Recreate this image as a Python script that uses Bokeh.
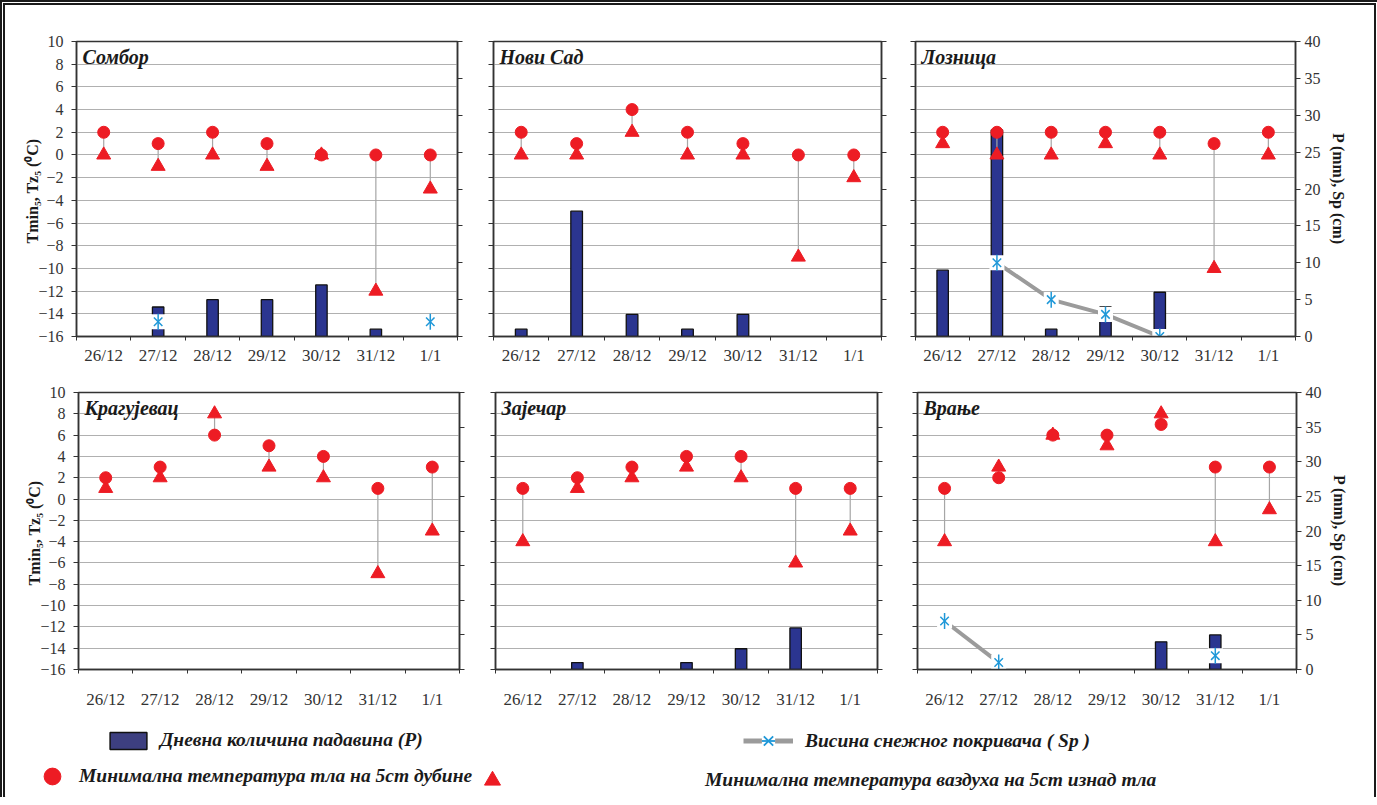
import math
from bokeh.plotting import figure
from bokeh.models import Range1d, LinearAxis, FixedTicker, Label, Legend, LegendItem
from bokeh.layouts import row, column
from bokeh.embed import file_html
from bokeh.resources import INLINE

NaN = float("nan")
days = ["26/12", "27/12", "28/12", "29/12", "30/12", "31/12", "1/1"]

stations = ["Сомбор", "Нови Сад", "Лозница", "Крагујевац", "Зајечар", "Врање"]

# minimum soil temperature at 5 cm depth (°C)
soil_sombor = [2, 1, 2, 1, 0, 0, 0]
soil_novisad = [2, 1, 4, 2, 1, 0, 0]
soil_loznica = [2, 2, 2, 2, 2, 1, 2]
soil_kragujevac = [2, 3, 6, 5, 4, 1, 3]
soil_zajecar = [1, 2, 3, 4, 4, 1, 1]
soil_vranje = [1, 2, 6, 6, 7, 3, 3]

# minimum air temperature 5 cm above ground (°C)
air_sombor = [0, -1, 0, -1, 0, -12, -3]
air_novisad = [0, 0, 2, 0, 0, -9, -2]
air_loznica = [1, 0, 0, 1, 0, -10, 0]
air_kragujevac = [1, 2, 8, 3, 2, -7, -3]
air_zajecar = [-4, 1, 2, 3, 2, -6, -3]
air_vranje = [-4, 3, 6, 5, 8, -4, -1]

# daily precipitation P (mm)
precip_sombor = [0, 4, 5, 5, 7, 1, 0]
precip_novisad = [1, 17, 3, 1, 3, 0, 0]
precip_loznica = [9, 28, 1, 4, 6, 0, 0]
precip_kragujevac = [0, 0, 0, 0, 0, 0, 0]
precip_zajecar = [0, 1, 0, 1, 3, 6, 0]
precip_vranje = [0, 0, 0, 0, 4, 5, 0]

# snow cover height Sp (cm)
snow_sombor = [NaN, 2, NaN, NaN, NaN, NaN, 2]
snow_novisad = [NaN] * 7
snow_loznica = [NaN, 10, 5, 3, 0, NaN, NaN]
snow_kragujevac = [NaN] * 7
snow_zajecar = [NaN] * 7
snow_vranje = [7, 1, NaN, NaN, NaN, 2, NaN]

t_ticks = list(range(-16, 11, 2))
p_ticks = list(range(0, 41, 5))

# placeholder point (outside the visible range) so legend glyphs get drawn
legend_dummy_x = [-5.0]
legend_dummy_y = [-5.0]

RED = "#ed1c24"
NAVY = "#2b3590"
SNOWBLUE = "#1f98d8"
GRID = "#b0b0b0"
DARK = "#333333"
SERIF = "'Liberation Serif', 'Times New Roman', serif"


def panel(name, soil, air, precip, snow, w, h, bl, br, bt, bb,
          left_labels, right_labels, xstand):
    p = figure(width=w, height=h, x_range=Range1d(0, len(days)),
               y_range=Range1d(-16, 10), output_backend="svg",
               toolbar_location=None, min_border_left=bl, min_border_right=br,
               min_border_top=bt, min_border_bottom=bb, title=None)
    p.extra_y_ranges = {"p": Range1d(0, 40)}
    p.background_fill_color = "white"
    p.border_fill_alpha = 0
    p.outline_line_color = DARK
    p.outline_line_width = 1.5
    p.xgrid.visible = False

    xs = [i + 0.5 for i in range(len(days))]

    # x axis: labels at category centres, ticks at boundaries
    xa = p.xaxis[0]
    xa.ticker = FixedTicker(ticks=xs, minor_ticks=list(range(len(days) + 1)))
    xa.major_label_overrides = {x: d for x, d in zip(xs, days)}
    xa.major_tick_out = 0
    xa.major_tick_in = 0
    xa.minor_tick_out = 4
    xa.minor_tick_in = 0
    xa.minor_tick_line_color = DARK
    xa.axis_line_color = DARK
    xa.axis_line_width = 1.5
    xa.major_label_standoff = xstand
    xa.major_label_text_font = SERIF
    xa.major_label_text_font_size = "17px"
    xa.major_label_text_color = DARK

    # left temperature axis
    ya = p.yaxis[0]
    ya.ticker = FixedTicker(ticks=t_ticks, minor_ticks=[])
    ya.major_tick_out = 5
    ya.major_tick_in = 0
    ya.major_tick_line_color = DARK
    ya.axis_line_color = DARK
    ya.axis_line_width = 1.5
    ya.major_label_text_font = SERIF
    ya.major_label_text_font_size = "16px"
    ya.major_label_text_color = DARK
    ya.major_label_standoff = 8
    if left_labels:
        ya.axis_label = "Tmin\u2085,  Tz\u2085 (\u2070C)"
        ya.axis_label_text_font = SERIF
        ya.axis_label_text_font_style = "bold"
        ya.axis_label_text_font_size = "16px"
        ya.axis_label_text_color = "#1a1a1a"
        ya.axis_label_standoff = -6
    else:
        ya.major_label_overrides = {t: "" for t in t_ticks}
    p.ygrid.grid_line_color = GRID
    p.ygrid.grid_line_width = 1.2

    # right precipitation / snow axis
    ra = LinearAxis(y_range_name="p", ticker=FixedTicker(ticks=p_ticks, minor_ticks=[]))
    ra.major_tick_out = 5
    ra.major_tick_in = 0
    ra.major_tick_line_color = DARK
    ra.axis_line_color = DARK
    ra.axis_line_width = 1.5
    ra.major_label_text_font = SERIF
    ra.major_label_text_font_size = "16px"
    ra.major_label_text_color = DARK
    ra.major_label_standoff = 4
    if right_labels:
        ra.axis_label = "P (mm), Sp (cm)"
        ra.axis_label_text_font = SERIF
        ra.axis_label_text_font_style = "bold"
        ra.axis_label_text_font_size = "16px"
        ra.axis_label_text_color = "#1a1a1a"
        ra.axis_label_standoff = 6
    else:
        ra.major_label_overrides = {t: "" for t in p_ticks}
    p.add_layout(ra, "right")

    # precipitation bars
    bx = [x for x, v in zip(xs, precip) if v > 0]
    btop = [v for v in precip if v > 0]
    if bx:
        p.vbar(x=bx, top=btop, bottom=0, width=0.21, y_range_name="p",
               fill_color=NAVY, line_color="#111111", line_width=1.3)

    # snow cover
    if any(not math.isnan(v) for v in snow):
        p.line(xs, snow, y_range_name="p", line_color="#9b9b9b", line_width=4)
        p.scatter(xs, snow, y_range_name="p", marker="square", size=15,
                  fill_color="white", line_color=None)
        p.scatter(xs, snow, y_range_name="p", marker="x", size=12,
                  line_color=SNOWBLUE, line_width=1.5)
        p.scatter(xs, snow, y_range_name="p", marker="dash", size=16, angle=math.pi / 2,
                  line_color=SNOWBLUE, line_width=1.5)

    # temperature range lines + markers
    p.segment(x0=xs, y0=soil, x1=xs, y1=air, line_color="#a6a6a6", line_width=1.2)
    p.scatter(xs, air, marker="triangle", size=14, fill_color=RED, line_color=RED)
    p.scatter(xs, soil, marker="circle", size=12, fill_color=RED, line_color=RED)

    p.add_layout(Label(x=0, y=10, x_offset=6, y_offset=-4, text=name,
                       text_baseline="top", text_font=SERIF,
                       text_font_style="bold italic", text_font_size="20px",
                       text_color="#1a1a1a"))
    return p


p1 = panel(stations[0], soil_sombor, air_sombor, precip_sombor, snow_sombor,
           468, 367, 71, 16, 36, 36, True, False, 5)
p2 = panel(stations[1], soil_novisad, air_novisad, precip_novisad, snow_novisad,
           424, 367, 20, 16, 36, 36, False, False, 5)
p3 = panel(stations[2], soil_loznica, air_loznica, precip_loznica, snow_loznica,
           477, 367, 18, 79, 36, 36, False, True, 5)
p4 = panel(stations[3], soil_kragujevac, air_kragujevac, precip_kragujevac, snow_kragujevac,
           470, 339, 73, 16, 20, 36, True, False, 16)
p5 = panel(stations[4], soil_zajecar, air_zajecar, precip_zajecar, snow_zajecar,
           420, 339, 20, 18, 20, 36, False, False, 16)
p6 = panel(stations[5], soil_vranje, air_vranje, precip_vranje, snow_vranje,
           479, 339, 22, 78, 20, 36, False, True, 16)

# legend strip
legend_labels = ["Дневна количина падавина (P)",
                 "Висина снежног покривача ( Sp )",
                 "Минимална температура тла на 5cm дубине",
                 "Минимална температура ваздуха на 5cm изнад тла"]

lg = figure(width=1369, height=86, x_range=Range1d(0, 1), y_range=Range1d(0, 1),
            output_backend="svg", toolbar_location=None, min_border=0, title=None,
            x_axis_location=None, y_axis_location=None)
lg.grid.visible = False
lg.outline_line_color = None
lg.border_fill_alpha = 0
lg.background_fill_alpha = 0

dx, dy = legend_dummy_x, legend_dummy_y
r_bar = lg.vbar(x=dx, top=dy, width=0.2, fill_color="#3d3f80", line_color="#111111", line_width=1.5)
r_sl = lg.line(x=dx, y=dy, line_color="#9b9b9b", line_width=5)
r_sh = lg.scatter(x=dx, y=dy, marker="square", fill_color="white", line_color=None)
r_sx = lg.scatter(x=dx, y=dy, marker="x", line_color=SNOWBLUE, line_width=1.8)
r_sd = lg.scatter(x=dx, y=dy, marker="dash", angle=math.pi / 2, line_color=SNOWBLUE, line_width=1.8)
r_c = lg.scatter(x=dx, y=dy, marker="circle", fill_color=RED, line_color=RED)
r_t = lg.scatter(x=dx, y=dy, marker="triangle", fill_color=RED, line_color=RED)

common = dict(label_text_font=SERIF, label_text_font_style="bold italic",
              label_text_font_size="19.5px", label_text_color="#1a1a1a",
              padding=0, margin=0, border_line_color=None, background_fill_alpha=0,
              orientation="horizontal")

lg.add_layout(Legend(items=[LegendItem(label=legend_labels[0], renderers=[r_bar])],
                     location=(100, 46), glyph_width=46, glyph_height=21, label_height=21,
                     label_standoff=9, **common))
lg.add_layout(Legend(items=[LegendItem(label=legend_labels[1], renderers=[r_sl, r_sh, r_sx, r_sd])],
                     location=(738, 40), glyph_width=50, glyph_height=33, label_height=33,
                     label_standoff=12, **common))
lg.add_layout(Legend(items=[LegendItem(label=legend_labels[2], renderers=[r_c])],
                     location=(26, 0), glyph_width=42, glyph_height=42, label_height=42,
                     label_standoff=6, **common))
lg.add_layout(Legend(items=[LegendItem(label=legend_labels[3], renderers=[r_t])],
                     location=(467, -3), glyph_width=40, glyph_height=40, label_height=40,
                     label_standoff=193, **common))

layout = column(row(p1, p2, p3), row(p4, p5, p6), lg,
                styles={"border-style": "double", "border-color": "#1a1a1a",
                        "border-width": "5px 5px 0px 5px", "background": "white"})

open("out.html", "w").write(file_html(layout, INLINE))
